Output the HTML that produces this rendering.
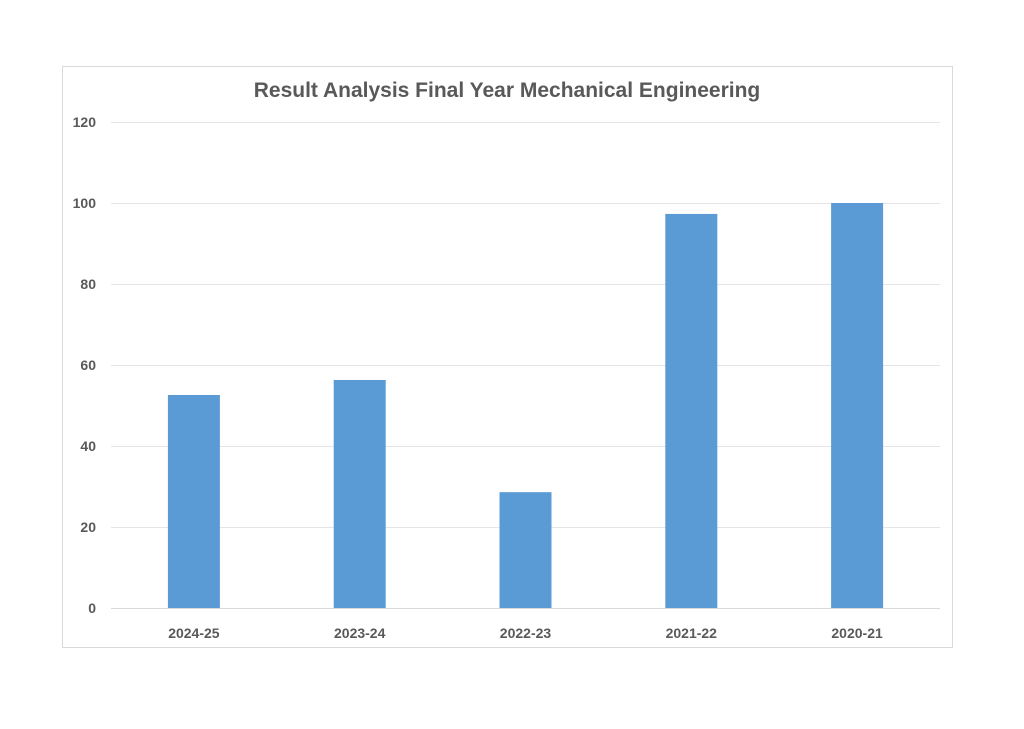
<!DOCTYPE html>
<html><head><meta charset="utf-8"><style>
body{margin:0;background:#fff;width:1024px;height:724px;overflow:hidden;font-family:"Liberation Sans",sans-serif}
</style></head><body>
<svg width="1024" height="724">
<rect x="62.5" y="66.5" width="890" height="581" fill="#fff" stroke="#d9d9d9"/>
<text x="507" y="97" text-anchor="middle" font-size="21" font-weight="bold" fill="#595959">Result Analysis Final Year Mechanical Engineering</text>
<g id="grid"></g><g id="bars"></g><g id="xl"></g>
</svg>
<script>
const categories=["2024-25","2023-24","2022-23","2021-22","2020-21"];
const values=[52.6,56.3,28.6,97.3,100];
const yTicks=[0,20,40,60,80,100,120];
const ns="http://www.w3.org/2000/svg";
const X0=111,X1=940,Y0=608,Y1=122,YMAX=120;
const y=v=>Y0-(v/YMAX)*(Y0-Y1);
const bw=(X1-X0)/categories.length;
const grid=document.getElementById('grid'),bars=document.getElementById('bars'),xl=document.getElementById('xl');
yTicks.forEach(t=>{
 const l=document.createElementNS(ns,'line');
 
 
 l.setAttribute('x1',X0);l.setAttribute('x2',X1);l.setAttribute('y1',y(t)+0.5);l.setAttribute('y2',y(t)+0.5);
 l.setAttribute('stroke',t===0?'#d9d9d9':'#e5e5e5');
 grid.appendChild(l);
 const tx=document.createElementNS(ns,'text');
 
 
 tx.setAttribute('x',96);tx.setAttribute('y',y(t)+5);tx.setAttribute('text-anchor','end');
 tx.setAttribute('font-size','14');tx.setAttribute('font-weight','bold');tx.setAttribute('fill','#595959');
 tx.textContent=t;grid.appendChild(tx);
});
categories.forEach((c,i)=>{
 const cx=X0+bw*(i+0.5);
 const r=document.createElementNS(ns,'rect');
 
 
 r.setAttribute('x',cx-26);r.setAttribute('width',52);
 r.setAttribute('y',y(values[i]));r.setAttribute('height',Y0-y(values[i]));
 r.setAttribute('fill','#5b9bd5');bars.appendChild(r);
 const tx=document.createElementNS(ns,'text');
 
 
 tx.setAttribute('x',cx);tx.setAttribute('y',638);tx.setAttribute('text-anchor','middle');
 tx.setAttribute('font-size','14');tx.setAttribute('font-weight','bold');tx.setAttribute('fill','#595959');
 tx.textContent=c;xl.appendChild(tx);
});
</script>
</body></html>
